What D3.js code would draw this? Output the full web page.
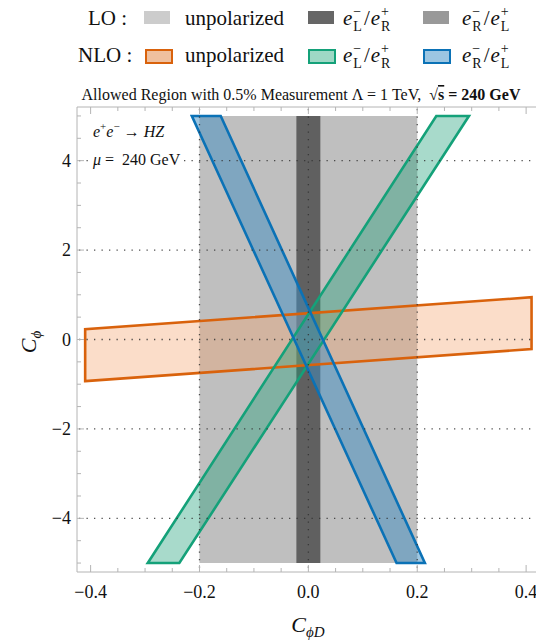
<!DOCTYPE html>
<html>
<head>
<meta charset="utf-8">
<script src="https://cdn.jsdelivr.net/npm/d3@7"></script>
<style>
  html, body { margin: 0; padding: 0; background: #fff; }
  svg { display: block; }
  text { font-family: "Liberation Serif", "DejaVu Serif", serif; fill: #111; white-space: pre; }
</style>
</head>
<body>
<svg id="chart" width="536" height="640"></svg>
<script>
// Axis ticks
const xTicks = [-0.4, -0.2, 0, 0.2, 0.4];
const yTicks = [-4, -2, 0, 2, 4];
const xGrid = [-0.2, 0, 0.2];
const yGrid = [-4, -2, 0, 2, 4];

// Allowed regions in the (C_phiD, C_phi) plane, polygon corners
const loUnpolarized = [[-0.2, -5], [0.2, -5], [0.2, 5], [-0.2, 5]];
const loLR = [[-0.022, -5], [0.022, -5], [0.022, 5], [-0.022, 5]];
const loRL = [[-0.2, -5], [0.2, -5], [0.2, 5], [-0.2, 5]];
const nloUnpolarized = [[-0.41, -0.93], [0.41, -0.215], [0.41, 0.945], [-0.41, 0.23]];
const nloLR = [[-0.295, -5], [-0.237, -5], [0.295, 5], [0.235, 5]];
const nloRL = [[0.162, -5], [0.214, -5], [-0.161, 5], [-0.214, 5]];

(function () {
const svg = d3.select("#chart");

const pLeft = 77, pRight = 537, pTop = 107, pBottom = 572;
const x = d3.scaleLinear().domain([-0.425, 0.42]).range([pLeft, pRight]);
const y = d3.scaleLinear().domain([-5.2, 5.2]).range([pBottom, pTop]);

const line = d3.line().x(d => x(d[0])).y(d => y(d[1]));
const poly = pts => line(pts) + "Z";

const plot = svg.append("g");

// LO regions
const loStyles = [
  { data: loUnpolarized, fill: "#cccccc", op: 0.5 },
  { data: loRL, fill: "#999999", op: 0.5 },
  { data: loLR, fill: "#555555", op: 0.9 }
];
loStyles.forEach(s => {
  plot.append("path").attr("d", poly(s.data))
    .attr("fill", s.fill).attr("fill-opacity", s.op).attr("stroke", "none");
});

// NLO regions
const nloStyles = [
  { data: nloUnpolarized, fill: "#f4a06a", op: 0.36, stroke: "#d9620c" },
  { data: nloLR, fill: "#1a9f76", op: 0.38, stroke: "#14a179" },
  { data: nloRL, fill: "#3f8dc1", op: 0.5, stroke: "#0b72b6" }
];
nloStyles.forEach(s => {
  plot.append("path").attr("d", poly(s.data))
    .attr("fill", s.fill).attr("fill-opacity", s.op).attr("stroke", "none");
});
nloStyles.forEach(s => {
  plot.append("path").attr("d", poly(s.data))
    .attr("fill", "none").attr("stroke", s.stroke)
    .attr("stroke-width", 2.6).attr("stroke-linejoin", "miter");
});

// Dotted grid lines
const grid = svg.append("g").attr("stroke", "#333").attr("stroke-width", 1.3)
  .attr("stroke-dasharray", "1.3,6.2").attr("stroke-opacity", 0.85);
yGrid.forEach(v => {
  grid.append("line").attr("x1", pLeft + 2).attr("x2", pRight).attr("y1", y(v)).attr("y2", y(v));
});
xGrid.forEach(v => {
  grid.append("line").attr("x1", x(v)).attr("x2", x(v)).attr("y1", pTop + 2).attr("y2", pBottom);
});

// Frame
const frame = svg.append("g").attr("stroke", "#b4b4b4").attr("stroke-width", 1);
frame.append("line").attr("x1", pLeft).attr("x2", pLeft).attr("y1", pTop).attr("y2", pBottom);
frame.append("line").attr("x1", pLeft).attr("x2", pRight).attr("y1", pBottom).attr("y2", pBottom);
frame.append("line").attr("x1", pLeft).attr("x2", pRight).attr("y1", pTop).attr("y2", pTop);

// Bottom / top axes with inward ticks
const xMinor = d3.range(-0.4, 0.4001, 0.05).map(v => +v.toFixed(2));
const isMajorX = v => Math.abs(Math.round(v / 0.2) * 0.2 - v) < 1e-6;
xMinor.forEach(v => {
  const len = isMajorX(v) ? 7 : 4;
  frame.append("line").attr("x1", x(v)).attr("x2", x(v)).attr("y1", pBottom).attr("y2", pBottom - len);
  frame.append("line").attr("x1", x(v)).attr("x2", x(v)).attr("y1", pTop).attr("y2", pTop + len);
});
const yMinor = d3.range(-5, 5.001, 0.5);
yMinor.forEach(v => {
  const len = Math.abs(v % 2) < 1e-6 ? 7 : 4;
  frame.append("line").attr("x1", pLeft).attr("x2", pLeft + len).attr("y1", y(v)).attr("y2", y(v));
});

const fmtX = d3.format(".1f");
const minus = s => s.replace("-", "\u2212");
svg.append("g").selectAll("text").data(xTicks).join("text")
  .attr("x", d => x(d)).attr("y", 598).attr("text-anchor", "middle")
  .attr("font-size", 18).text(d => minus(fmtX(d)));
svg.append("g").selectAll("text").data(yTicks).join("text")
  .attr("x", 71).attr("y", d => y(d) + 6).attr("text-anchor", "end")
  .attr("font-size", 18).text(d => minus(String(d)));

// Axis titles
const xl = svg.append("text").attr("x", 308).attr("y", 632).attr("text-anchor", "middle").attr("font-size", 22);
xl.append("tspan").attr("font-style", "italic").text("C");
xl.append("tspan").attr("font-style", "italic").attr("font-size", 15).attr("dy", 5).text("\u03d5D");

const yl = svg.append("text").attr("transform", "translate(36,342) rotate(-90)").attr("text-anchor", "middle").attr("font-size", 22);
yl.append("tspan").attr("font-style", "italic").text("C");
yl.append("tspan").attr("font-style", "italic").attr("font-size", 15).attr("dy", 5).text("\u03d5");

// Process / scale annotation, set on a white label box
const note = svg.append("g");
note.append("rect").attr("x", 89).attr("y", 151).attr("width", 93).attr("height", 19).attr("fill", "#fff");
const a1 = note.append("text").attr("x", 93).attr("y", 137).attr("font-size", 16);
a1.append("tspan").attr("font-style", "italic").text("e");
a1.append("tspan").attr("font-size", 11).attr("dy", -7).text("+");
a1.append("tspan").attr("font-style", "italic").attr("dy", 7).text("e");
a1.append("tspan").attr("font-size", 11).attr("dy", -7).text("\u2212");
a1.append("tspan").attr("dy", 7).text(" \u2192 ");
a1.append("tspan").attr("font-style", "italic").text("HZ");

const a2 = note.append("text").attr("x", 93).attr("y", 165).attr("font-size", 16);
a2.append("tspan").attr("font-style", "italic").text("\u03bc");
a2.append("tspan").text(" =  240 GeV");

// Title
const t = svg.append("text").attr("x", 301).attr("y", 100).attr("text-anchor", "middle").attr("font-size", 16);
t.append("tspan").text("Allowed Region with 0.5% Measurement \u039b = 1 TeV,  ");
t.append("tspan").text("\u221a");
t.append("tspan").attr("font-weight", "bold").attr("text-decoration", "overline").text("s");
t.append("tspan").attr("font-weight", "bold").text(" = 240 GeV");

// Legend
const lg = svg.append("g");
function mathPair(xp, yp, s1, s2) {
  // e_{s1}^- / e_{s2}^+ with stacked sub/superscripts
  const g = lg.append("g");
  let cx = xp;
  const put = (txt, dy, size, italic) => {
    const el = g.append("text").attr("x", cx).attr("y", yp + dy).attr("font-size", size)
      .attr("font-style", italic ? "italic" : "normal").text(txt);
    return el.node().getComputedTextLength();
  };
  cx += put("e", 0, 21, true) + 1;
  const w1 = Math.max(put("\u2212", -9, 14, false), put(s1, 6, 14, false));
  cx += w1 + 2;
  cx += put("/", 0, 21, false) + 1;
  cx += put("e", 0, 21, true) + 1;
  put("+", -9, 14, false);
  put(s2, 6, 14, false);
}

const legendRows = [
  { label: "LO :", lx: 88, y: 25, sy: 10,
    items: [
      { sx: 143, tx: 185, fill: "#cccccc", stroke: null, kind: "unpolarized" },
      { sx: 307, tx: 343, fill: "#666666", stroke: null, kind: ["L", "R"] },
      { sx: 422, tx: 462, fill: "#999999", stroke: null, kind: ["R", "L"] }
    ] },
  { label: "NLO :", lx: 78, y: 62, sy: 49,
    items: [
      { sx: 145, tx: 185, fill: "#efc09f", stroke: "#d9620c", kind: "unpolarized" },
      { sx: 308, tx: 343, fill: "#9ed8c5", stroke: "#14a179", kind: ["L", "R"] },
      { sx: 423, tx: 462, fill: "#9cc6e2", stroke: "#0b72b6", kind: ["R", "L"] }
    ] }
];
legendRows.forEach(r => {
  lg.append("text").attr("x", r.lx).attr("y", r.y).attr("font-size", 21).text(r.label);
  r.items.forEach(it => {
    lg.append("rect").attr("x", it.sx + 1).attr("y", r.sy + 1).attr("width", 26).attr("height", 13)
      .attr("fill", it.fill).attr("stroke", it.stroke || "none").attr("stroke-width", it.stroke ? 2 : 0);
    if (it.kind === "unpolarized") {
      lg.append("text").attr("x", it.tx).attr("y", r.y).attr("font-size", 21).text("unpolarized");
    } else {
      mathPair(it.tx, r.y, it.kind[0], it.kind[1]);
    }
  });
});
})();
</script>
</body>
</html>
